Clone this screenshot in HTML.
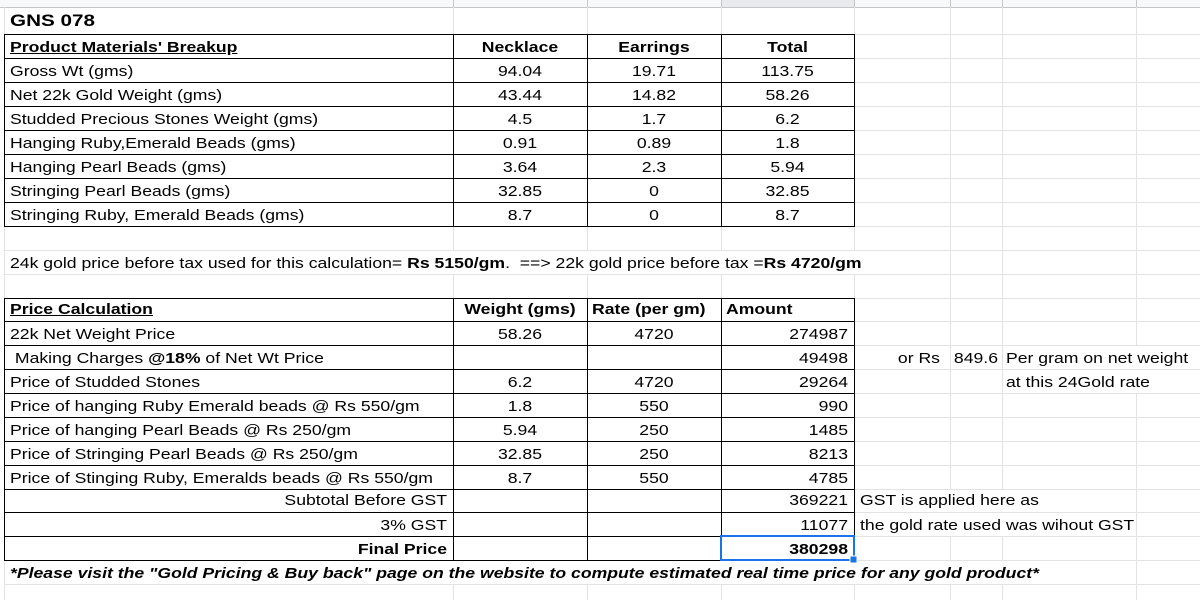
<!DOCTYPE html>
<html><head><meta charset="utf-8">
<style>
html,body{margin:0;padding:0;background:#fff;}
#w{position:relative;width:1200px;height:600px;overflow:hidden;background:#fff;font-family:"Liberation Sans",Arial,sans-serif;color:#000;}
svg{position:absolute;left:0;top:0;}
.t{position:absolute;white-space:pre;font-size:14.5px;height:24px;line-height:24px;margin-top:1px;}
.l{text-align:left;transform:scaleX(1.215);transform-origin:left center;}
.r{text-align:right;transform:scaleX(1.215);transform-origin:right center;}
.c{text-align:center;transform:scaleX(1.215);transform-origin:center center;}
b{font-weight:bold;}
u{text-decoration:underline;}
</style></head>
<body><div id="w">
<svg width="1200" height="600" shape-rendering="crispEdges">
<rect x="0" y="0" width="1200" height="7" fill="#f8f9fa"/>
<rect x="721" y="0" width="133" height="7" fill="#e8eaed"/>
<path d="M0 7.5H1200 M453.5 0V7 M587.5 0V7 M721.5 0V7 M854.5 0V7 M950.5 0V7 M1002.5 0V7 M1136.5 0V7" stroke="#c4c7c5" stroke-width="1" fill="none"/>
<path d="M4 34.5H1200 M4 58.5H1200 M4 82.5H1200 M4 106.5H1200 M4 130.5H1200 M4 154.5H1200 M4 178.5H1200 M4 202.5H1200 M4 226.5H1200 M4 250.5H1200 M4 274.5H1200 M4 298.5H1200 M4 321.5H1200 M4 345.5H1200 M4 369.5H1200 M4 393.5H1200 M4 417.5H1200 M4 441.5H1200 M4 465.5H1200 M4 489.5H1200 M4 512.5H1200 M4 536.5H1200 M4 560.5H1200 M4 584.5H1200
M4.5 7V600
M453.5 7V250 M453.5 274V560 M453.5 584V600
M587.5 7V250 M587.5 274V560 M587.5 584V600
M721.5 7V250 M721.5 274V560 M721.5 584V600
M854.5 7V250 M854.5 274V560 M854.5 584V600
M950.5 7V489 M950.5 536V560 M950.5 584V600
M1002.5 7V489 M1002.5 536V560 M1002.5 584V600
M1136.5 7V345 M1136.5 393V600" stroke="#e2e3e3" stroke-width="1" fill="none"/>
<path d="M4 34.5H855 M4 58.5H855 M4 82.5H855 M4 106.5H855 M4 130.5H855 M4 154.5H855 M4 178.5H855 M4 202.5H855 M4 226.5H855
M4.5 34V227 M453.5 34V227 M587.5 34V227 M721.5 34V227 M854.5 34V227
M4 298.5H855 M4 321.5H855 M4 345.5H855 M4 369.5H855 M4 393.5H855 M4 417.5H855 M4 441.5H855 M4 465.5H855 M4 489.5H855 M4 512.5H855 M4 536.5H855 M4 560.5H855
M4.5 298V561 M453.5 298V561 M587.5 298V561 M721.5 298V561 M854.5 298V561" stroke="#000" stroke-width="1" fill="none"/>
<rect x="721" y="536" width="133" height="24" fill="none" stroke="#1a73e8" stroke-width="2"/>
<rect x="850" y="556" width="7" height="7" fill="#1a73e8" stroke="#fff" stroke-width="1"/>
</svg>

<!-- Title -->
<div class="t l" style="left:10px;top:7px;margin-top:0;height:27px;line-height:27px;font-size:17px;font-weight:bold;">GNS 078</div>

<!-- Table 1 -->
<div class="t l" style="left:10px;top:35px;"><b><u>Product Materials' Breakup</u></b></div>
<div class="t c" style="left:453px;width:134px;top:35px;"><b>Necklace</b></div>
<div class="t c" style="left:587px;width:134px;top:35px;"><b>Earrings</b></div>
<div class="t c" style="left:721px;width:133px;top:35px;"><b>Total</b></div>

<div class="t l" style="left:10px;top:59px;">Gross Wt (gms)</div>
<div class="t c" style="left:453px;width:134px;top:59px;">94.04</div>
<div class="t c" style="left:587px;width:134px;top:59px;">19.71</div>
<div class="t c" style="left:721px;width:133px;top:59px;">113.75</div>

<div class="t l" style="left:10px;top:83px;">Net 22k Gold Weight (gms)</div>
<div class="t c" style="left:453px;width:134px;top:83px;">43.44</div>
<div class="t c" style="left:587px;width:134px;top:83px;">14.82</div>
<div class="t c" style="left:721px;width:133px;top:83px;">58.26</div>

<div class="t l" style="left:10px;top:107px;">Studded Precious Stones Weight (gms)</div>
<div class="t c" style="left:453px;width:134px;top:107px;">4.5</div>
<div class="t c" style="left:587px;width:134px;top:107px;">1.7</div>
<div class="t c" style="left:721px;width:133px;top:107px;">6.2</div>

<div class="t l" style="left:10px;top:131px;">Hanging Ruby,Emerald Beads (gms)</div>
<div class="t c" style="left:453px;width:134px;top:131px;">0.91</div>
<div class="t c" style="left:587px;width:134px;top:131px;">0.89</div>
<div class="t c" style="left:721px;width:133px;top:131px;">1.8</div>

<div class="t l" style="left:10px;top:155px;">Hanging Pearl Beads (gms)</div>
<div class="t c" style="left:453px;width:134px;top:155px;">3.64</div>
<div class="t c" style="left:587px;width:134px;top:155px;">2.3</div>
<div class="t c" style="left:721px;width:133px;top:155px;">5.94</div>

<div class="t l" style="left:10px;top:179px;">Stringing Pearl Beads (gms)</div>
<div class="t c" style="left:453px;width:134px;top:179px;">32.85</div>
<div class="t c" style="left:587px;width:134px;top:179px;">0</div>
<div class="t c" style="left:721px;width:133px;top:179px;">32.85</div>

<div class="t l" style="left:10px;top:203px;">Stringing Ruby, Emerald Beads (gms)</div>
<div class="t c" style="left:453px;width:134px;top:203px;">8.7</div>
<div class="t c" style="left:587px;width:134px;top:203px;">0</div>
<div class="t c" style="left:721px;width:133px;top:203px;">8.7</div>

<!-- 24k line -->
<div class="t l" style="left:10px;top:251px;">24k gold price before tax used for this calculation= <b>Rs 5150/gm</b>.  ==&gt; 22k gold price before tax =<b>Rs 4720/gm</b></div>

<!-- Table 2 -->
<div class="t l" style="left:10px;top:298px;height:23px;line-height:23px;"><b><u>Price Calculation</u></b></div>
<div class="t c" style="left:453px;width:134px;top:298px;height:23px;line-height:23px;"><b>Weight (gms)</b></div>
<div class="t l" style="left:592px;top:298px;height:23px;line-height:23px;"><b>Rate (per gm)</b></div>
<div class="t l" style="left:726px;top:298px;height:23px;line-height:23px;"><b>Amount</b></div>

<div class="t l" style="left:10px;top:322px;">22k Net Weight Price</div>
<div class="t c" style="left:453px;width:134px;top:322px;">58.26</div>
<div class="t c" style="left:587px;width:134px;top:322px;">4720</div>
<div class="t r" style="left:721px;width:127px;top:322px;">274987</div>

<div class="t l" style="left:10px;top:346px;"> Making Charges <b>@18%</b> of Net Wt Price</div>
<div class="t r" style="left:721px;width:127px;top:346px;">49498</div>
<div class="t r" style="left:854px;width:86px;top:346px;">or Rs</div>
<div class="t r" style="left:950px;width:48px;top:346px;">849.6</div>
<div class="t l" style="left:1006px;top:346px;">Per gram on net weight</div>

<div class="t l" style="left:10px;top:370px;">Price of Studded Stones</div>
<div class="t c" style="left:453px;width:134px;top:370px;">6.2</div>
<div class="t c" style="left:587px;width:134px;top:370px;">4720</div>
<div class="t r" style="left:721px;width:127px;top:370px;">29264</div>
<div class="t l" style="left:1006px;top:370px;">at this 24Gold rate</div>

<div class="t l" style="left:10px;top:394px;">Price of hanging Ruby Emerald beads @ Rs 550/gm</div>
<div class="t c" style="left:453px;width:134px;top:394px;">1.8</div>
<div class="t c" style="left:587px;width:134px;top:394px;">550</div>
<div class="t r" style="left:721px;width:127px;top:394px;">990</div>

<div class="t l" style="left:10px;top:418px;">Price of hanging Pearl Beads @ Rs 250/gm</div>
<div class="t c" style="left:453px;width:134px;top:418px;">5.94</div>
<div class="t c" style="left:587px;width:134px;top:418px;">250</div>
<div class="t r" style="left:721px;width:127px;top:418px;">1485</div>

<div class="t l" style="left:10px;top:442px;">Price of Stringing Pearl Beads @ Rs 250/gm</div>
<div class="t c" style="left:453px;width:134px;top:442px;">32.85</div>
<div class="t c" style="left:587px;width:134px;top:442px;">250</div>
<div class="t r" style="left:721px;width:127px;top:442px;">8213</div>

<div class="t l" style="left:10px;top:466px;">Price of Stinging Ruby, Emeralds beads @ Rs 550/gm</div>
<div class="t c" style="left:453px;width:134px;top:466px;">8.7</div>
<div class="t c" style="left:587px;width:134px;top:466px;">550</div>
<div class="t r" style="left:721px;width:127px;top:466px;">4785</div>

<div class="t r" style="left:4px;width:443px;top:489px;height:23px;line-height:23px;">Subtotal Before GST</div>
<div class="t r" style="left:721px;width:127px;top:489px;height:23px;line-height:23px;">369221</div>
<div class="t l" style="left:860px;top:489px;height:23px;line-height:23px;">GST is applied here as</div>

<div class="t r" style="left:4px;width:443px;top:513px;">3% GST</div>
<div class="t r" style="left:721px;width:127px;top:513px;">11077</div>
<div class="t l" style="left:860px;top:513px;">the gold rate used was wihout GST</div>

<div class="t r" style="left:4px;width:443px;top:537px;"><b>Final Price</b></div>
<div class="t r" style="left:721px;width:127px;top:537px;"><b>380298</b></div>

<div class="t l" style="left:10px;top:561px;font-weight:bold;font-style:italic;">*Please visit the "Gold Pricing &amp; Buy back" page on the website to compute estimated real time price for any gold product*</div>
</div></body></html>
